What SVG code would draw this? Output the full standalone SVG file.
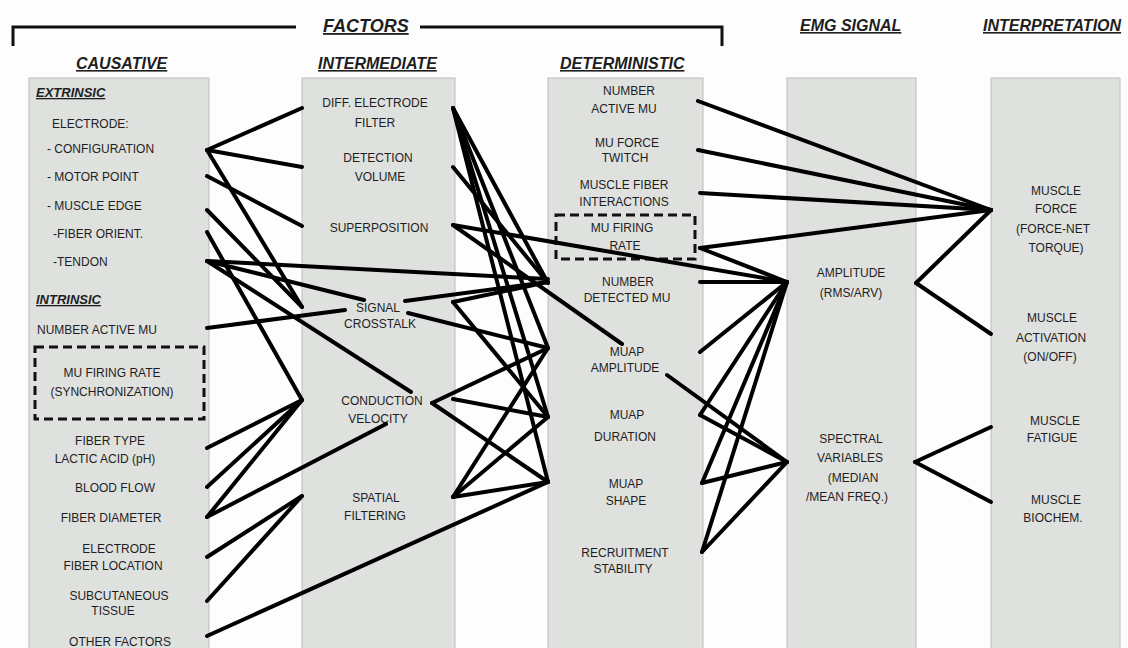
<svg xmlns="http://www.w3.org/2000/svg" width="1128" height="648" viewBox="0 0 1128 648">
<style>
.bg{fill:#fdfdfd}
.col{fill:#dfe1de;stroke:#bcbcbc;stroke-width:1}
.t{font-family:"Liberation Sans",Arial,sans-serif;font-size:12px;fill:#1e1e1e}
.c{text-anchor:middle}
.h{font-family:"Liberation Sans",Arial,sans-serif;font-size:16px;font-weight:bold;font-style:italic;fill:#1e1e1e;text-decoration:underline}
.sub{font-family:"Liberation Sans",Arial,sans-serif;font-size:13px;font-weight:bold;font-style:italic;fill:#1e1e1e;text-decoration:underline}
.dash{fill:none;stroke:#111;stroke-width:3;stroke-dasharray:9,5}
.br{fill:none;stroke:#111;stroke-width:3}
#connectors line{stroke:#000;stroke-width:4;stroke-linecap:round}
</style>
<rect class="bg" x="0" y="0" width="1128" height="648"/>

<g id="headers">
<path class="br" d="M13,46 V27 H296"/>
<path class="br" d="M420,27 H722 V46"/>
<text class="h" x="323" y="32" style="font-size:18px">FACTORS</text>
<text class="h" x="800" y="31">EMG SIGNAL</text>
<text class="h" x="983" y="31">INTERPRETATION</text>
<text class="h" x="76" y="69">CAUSATIVE</text>
<text class="h" x="318" y="69">INTERMEDIATE</text>
<text class="h" x="560" y="69">DETERMINISTIC</text>
</g>

<g id="col-causative">
<rect class="col" x="29" y="78" width="180" height="590"/>
<text class="sub" x="36" y="97">EXTRINSIC</text>
<text class="t" x="52" y="128">ELECTRODE:</text>
<text class="t" x="47" y="153">- CONFIGURATION</text>
<text class="t" x="47" y="181">- MOTOR POINT</text>
<text class="t" x="47" y="210">- MUSCLE EDGE</text>
<text class="t" x="53" y="238">-FIBER ORIENT.</text>
<text class="t" x="53" y="266">-TENDON</text>
<text class="sub" x="36" y="304">INTRINSIC</text>
<text class="t" x="37" y="334">NUMBER ACTIVE MU</text>
<rect class="dash" x="35" y="347" width="169" height="72"/>
<text class="t c" x="112" y="377">MU FIRING RATE</text>
<text class="t c" x="112" y="396">(SYNCHRONIZATION)</text>
<text class="t c" x="110" y="445">FIBER TYPE</text>
<text class="t c" x="105" y="463">LACTIC ACID (pH)</text>
<text class="t c" x="115" y="492">BLOOD FLOW</text>
<text class="t c" x="111" y="522">FIBER DIAMETER</text>
<text class="t c" x="119" y="553">ELECTRODE</text>
<text class="t c" x="113" y="570">FIBER LOCATION</text>
<text class="t c" x="119" y="600">SUBCUTANEOUS</text>
<text class="t c" x="113" y="615">TISSUE</text>
<text class="t c" x="120" y="646">OTHER FACTORS</text>
</g>

<g id="col-intermediate">
<rect class="col" x="302" y="78" width="153" height="590"/>
<text class="t c" x="375" y="107">DIFF. ELECTRODE</text>
<text class="t c" x="375" y="127">FILTER</text>
<text class="t c" x="378" y="162">DETECTION</text>
<text class="t c" x="380" y="181">VOLUME</text>
<text class="t c" x="379" y="232">SUPERPOSITION</text>
<text class="t c" x="378" y="312">SIGNAL</text>
<text class="t c" x="380" y="328">CROSSTALK</text>
<text class="t c" x="382" y="405">CONDUCTION</text>
<text class="t c" x="378" y="423">VELOCITY</text>
<text class="t c" x="376" y="502">SPATIAL</text>
<text class="t c" x="375" y="520">FILTERING</text>
</g>

<g id="col-deterministic">
<rect class="col" x="548" y="78" width="155" height="590"/>
<text class="t c" x="629" y="95">NUMBER</text>
<text class="t c" x="624" y="113">ACTIVE MU</text>
<text class="t c" x="627" y="147">MU FORCE</text>
<text class="t c" x="625" y="162">TWITCH</text>
<text class="t c" x="624" y="189">MUSCLE FIBER</text>
<text class="t c" x="624" y="206">INTERACTIONS</text>
<rect class="dash" x="556" y="215" width="139" height="44"/>
<text class="t c" x="622" y="232">MU FIRING</text>
<text class="t c" x="625" y="250">RATE</text>
<text class="t c" x="628" y="286">NUMBER</text>
<text class="t c" x="627" y="302">DETECTED MU</text>
<text class="t c" x="627" y="356">MUAP</text>
<text class="t c" x="625" y="372">AMPLITUDE</text>
<text class="t c" x="627" y="419">MUAP</text>
<text class="t c" x="625" y="441">DURATION</text>
<text class="t c" x="626" y="488">MUAP</text>
<text class="t c" x="626" y="505">SHAPE</text>
<text class="t c" x="625" y="557">RECRUITMENT</text>
<text class="t c" x="623" y="573">STABILITY</text>
</g>

<g id="col-emg">
<rect class="col" x="787" y="78" width="129" height="590"/>
<text class="t c" x="851" y="277">AMPLITUDE</text>
<text class="t c" x="851" y="297">(RMS/ARV)</text>
<text class="t c" x="851" y="443">SPECTRAL</text>
<text class="t c" x="850" y="462">VARIABLES</text>
<text class="t c" x="853" y="482">(MEDIAN</text>
<text class="t c" x="847" y="501">/MEAN FREQ.)</text>
</g>

<g id="col-interpretation">
<rect class="col" x="991" y="78" width="129" height="590"/>
<text class="t c" x="1056" y="195">MUSCLE</text>
<text class="t c" x="1056" y="213">FORCE</text>
<text class="t c" x="1053" y="233">(FORCE-NET</text>
<text class="t c" x="1056" y="252">TORQUE)</text>
<text class="t c" x="1052" y="322">MUSCLE</text>
<text class="t c" x="1051" y="342">ACTIVATION</text>
<text class="t c" x="1050" y="361">(ON/OFF)</text>
<text class="t c" x="1055" y="425">MUSCLE</text>
<text class="t c" x="1052" y="442">FATIGUE</text>
<text class="t c" x="1056" y="504">MUSCLE</text>
<text class="t c" x="1053" y="522">BIOCHEM.</text>
</g>

<g id="connectors">
<line x1="207" y1="150" x2="302" y2="108"/>
<line x1="207" y1="150" x2="302" y2="167"/>
<line x1="207" y1="150" x2="302" y2="307"/>
<line x1="207" y1="176" x2="302" y2="226"/>
<line x1="207" y1="210" x2="302" y2="307"/>
<line x1="207" y1="232" x2="302" y2="400"/>
<line x1="207" y1="261" x2="548" y2="279"/>
<line x1="207" y1="261" x2="364" y2="300"/>
<line x1="207" y1="261" x2="411" y2="392"/>
<line x1="207" y1="328" x2="345" y2="310"/>
<line x1="207" y1="448" x2="302" y2="400"/>
<line x1="207" y1="487" x2="302" y2="400"/>
<line x1="207" y1="517" x2="302" y2="400"/>
<line x1="207" y1="517" x2="386" y2="424"/>
<line x1="207" y1="557" x2="302" y2="496"/>
<line x1="207" y1="601" x2="302" y2="496"/>
<line x1="207" y1="636" x2="548" y2="482"/>

<line x1="453" y1="108" x2="548" y2="283"/>
<line x1="453" y1="108" x2="548" y2="348"/>
<line x1="453" y1="108" x2="548" y2="417"/>
<line x1="453" y1="108" x2="548" y2="482"/>
<line x1="453" y1="167" x2="548" y2="283"/>
<line x1="453" y1="225" x2="622" y2="344"/>
<line x1="453" y1="225" x2="787" y2="282"/>
<line x1="405" y1="301" x2="548" y2="282"/>
<line x1="408" y1="313" x2="548" y2="348"/>
<line x1="453" y1="302" x2="548" y2="282"/>
<line x1="453" y1="302" x2="548" y2="417"/>
<line x1="432" y1="403" x2="548" y2="348"/>
<line x1="432" y1="403" x2="548" y2="482"/>
<line x1="453" y1="399" x2="548" y2="417"/>
<line x1="453" y1="497" x2="548" y2="348"/>
<line x1="453" y1="497" x2="548" y2="417"/>
<line x1="453" y1="497" x2="548" y2="482"/>

<line x1="698" y1="101" x2="991" y2="210"/>
<line x1="698" y1="150" x2="991" y2="210"/>
<line x1="700" y1="193" x2="991" y2="210"/>
<line x1="700" y1="248" x2="991" y2="210"/>
<line x1="700" y1="248" x2="787" y2="282"/>
<line x1="700" y1="282" x2="787" y2="282"/>
<line x1="700" y1="352" x2="787" y2="282"/>
<line x1="700" y1="415" x2="787" y2="282"/>
<line x1="702" y1="483" x2="787" y2="282"/>
<line x1="702" y1="552" x2="787" y2="282"/>
<line x1="667" y1="375" x2="787" y2="462"/>
<line x1="700" y1="415" x2="787" y2="462"/>
<line x1="702" y1="483" x2="787" y2="462"/>
<line x1="702" y1="552" x2="787" y2="462"/>

<line x1="916" y1="283" x2="991" y2="210"/>
<line x1="916" y1="283" x2="991" y2="334"/>
<line x1="915" y1="462" x2="991" y2="427"/>
<line x1="915" y1="462" x2="991" y2="502"/>
</g>
</svg>
